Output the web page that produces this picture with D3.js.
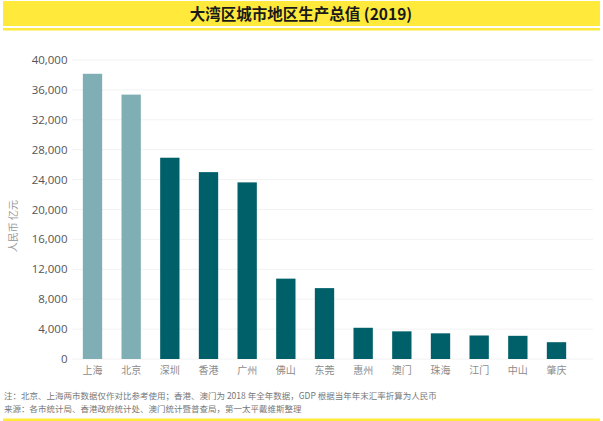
<!DOCTYPE html>
<html>
<head>
<meta charset="utf-8">
<script src="https://cdn.jsdelivr.net/npm/d3@7"></script>
<style>
  body { margin: 0; background: #fff; }
  svg { display: block; font-family: "Noto Sans CJK SC", "Noto Sans", sans-serif; }
</style>
</head>
<body>
<svg id="chart"></svg>
<script>
const cities = ["上海", "北京", "深圳", "香港", "广州", "佛山", "东莞", "惠州", "澳门", "珠海", "江门", "中山", "肇庆"];
const gdp = [38155, 35371, 26927, 25000, 23628, 10751, 9482, 4177, 3700, 3436, 3146, 3101, 2249];
const referenceOnly = ["上海", "北京"];
const yTicks = [0, 4000, 8000, 12000, 16000, 20000, 24000, 28000, 32000, 36000, 40000];

const width = 603, height = 421;

const svg = d3.select("#chart").attr("width", width).attr("height", height);

// ── Title bar ──
svg.append("rect").attr("x", 3).attr("y", 1).attr("width", 597).attr("height", 25).attr("fill", "#ffe93b");
svg.append("rect").attr("x", 3).attr("y", 28).attr("width", 597).attr("height", 2.5).attr("fill", "#ffe93b");
svg.append("rect").attr("x", 3).attr("y", 418.5).attr("width", 597).attr("height", 2.5).attr("fill", "#ffe93b");

svg.append("text")
  .attr("x", 301).attr("y", 19.5)
  .attr("text-anchor", "middle")
  .attr("font-size", 15.5)
  .attr("font-weight", "bold")
  .attr("fill", "#1a1a1a")
  .text("大湾区城市地区生产总值 (2019)");

// ── Scales ──
const x = d3.scaleBand().domain(cities).range([63.5, 585.5]).padding(0.5);
const y = d3.scaleLinear().domain([0, 40000]).range([359, 60]);

// ── Gridlines ──
svg.append("g")
  .selectAll("line")
  .data(yTicks)
  .join("line")
  .attr("x1", 72).attr("x2", 593)
  .attr("y1", (d) => y(d)).attr("y2", (d) => y(d))
  .attr("stroke", "#f2f2f2")
  .attr("stroke-width", 1);

// ── Y axis labels ──
svg.append("g")
  .selectAll("text")
  .data(yTicks)
  .join("text")
  .attr("x", 67.5)
  .attr("y", (d) => y(d))
  .attr("dy", "0.35em")
  .attr("text-anchor", "end")
  .attr("font-family", "'Open Sans', sans-serif")
  .attr("font-size", 11.5)
  .attr("fill", "#555")
  .text((d) => d3.format(",")(d));

svg.append("text")
  .attr("transform", "translate(17,226) rotate(-90)")
  .attr("text-anchor", "middle")
  .attr("font-size", 10)
  .attr("fill", "#999")
  .text("人民币 亿元");

// ── Bars ──
svg.append("g")
  .selectAll("rect")
  .data(cities.map((c, i) => ({ city: c, value: gdp[i] })))
  .join("rect")
  .attr("x", (d) => x(d.city))
  .attr("width", x.bandwidth())
  .attr("y", (d) => y(d.value))
  .attr("height", (d) => y(0) - y(d.value))
  .attr("fill", (d) => referenceOnly.includes(d.city) ? "#7fafb4" : "#00606a");

// ── X labels ──
svg.append("g")
  .selectAll("text")
  .data(cities)
  .join("text")
  .attr("x", (d) => x(d) + x.bandwidth() / 2)
  .attr("y", 374)
  .attr("text-anchor", "middle")
  .attr("font-size", 10)
  .attr("fill", "#8c8c8c")
  .text((d) => d);

// ── Notes ──
svg.append("text")
  .attr("x", 4).attr("y", 399)
  .attr("font-size", 8.5)
  .attr("fill", "#777")
  .text("注：北京、上海两市数据仅作对比参考使用；香港、澳门为 2018 年全年数据，GDP 根据当年年末汇率折算为人民币");

svg.append("text")
  .attr("x", 4).attr("y", 412)
  .attr("font-size", 8.5)
  .attr("fill", "#777")
  .text("来源：各市统计局、香港政府统计处、澳门统计暨普查局，第一太平戴维斯整理");
</script>
</body>
</html>
